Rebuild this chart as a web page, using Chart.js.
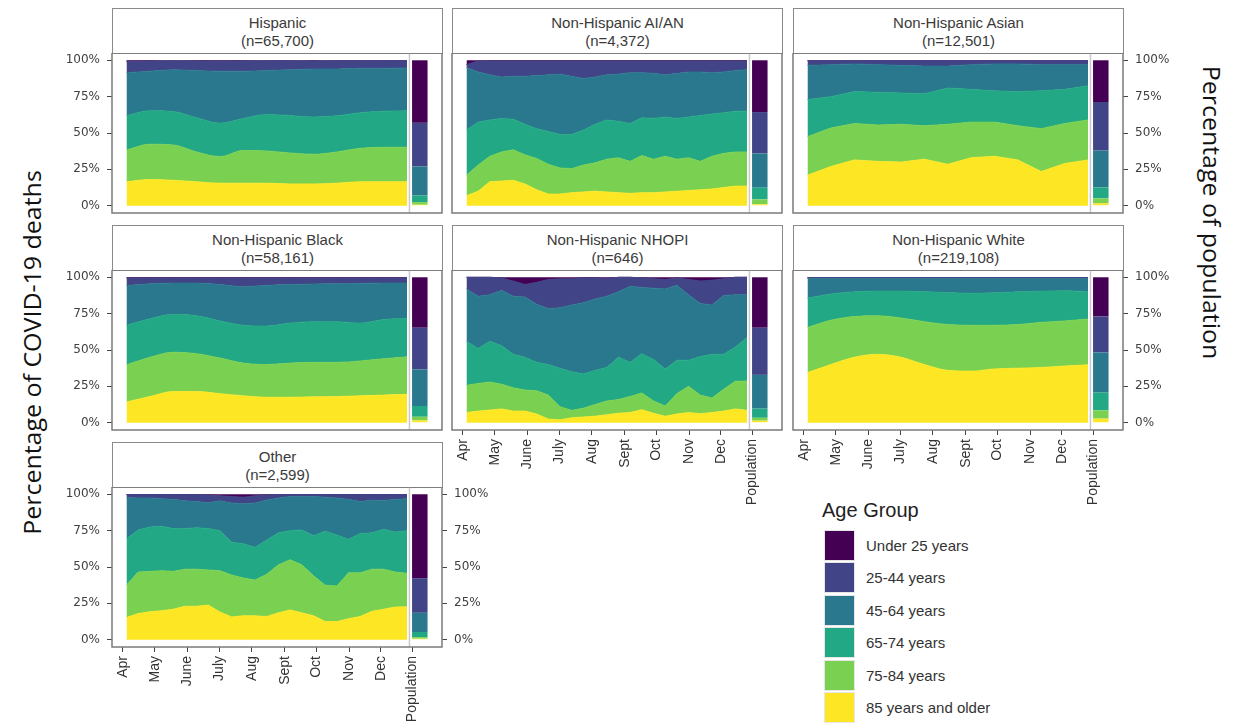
<!DOCTYPE html>
<html>
<head>
<meta charset="utf-8">
<script src="https://cdn.jsdelivr.net/npm/chart.js@4.4.0/dist/chart.umd.min.js"></script>
<style>
  body { margin: 0; background: #fff; width: 1234px; height: 725px; overflow: hidden; position: relative;
         font-family: "Liberation Sans", Arial, sans-serif; }
  canvas { position: absolute; }
  .strip { position: absolute; box-sizing: border-box; width: 331px; height: 46px; background: #fff;
           border: 1.5px solid #8a8a8a; text-align: center; color: #3a3a3a; font-size: 15px;
           line-height: 18px; padding-top: 5px; }
  .axis-title { position: absolute; white-space: nowrap; font-family: "Open Sans", sans-serif;
                font-size: 24px; color: #111; transform-origin: center center; }
  .legend-title { position: absolute; left: 822px; top: 499px; font-size: 20px; color: #222; }
  .legend-row { position: absolute; left: 824px; height: 32px; }
  .legend-row .sw { position: absolute; left: 0; top: 0; width: 31px; height: 31px; box-sizing: border-box;
                    border: 1px solid #e6e6e6; }
  .legend-row .lb { position: absolute; left: 42px; top: 7px; font-size: 15px; color: #333; white-space: nowrap; }
</style>
</head>
<body>
<div id="left-title" class="axis-title">Percentage of COVID-19 deaths</div>
<div id="right-title" class="axis-title">Percentage of population</div>
<div class="legend-title">Age Group</div>
<div id="legend"></div>
<script>
// ── Categories / ticks ─────────────────────────────────────────
const ageGroups  = ['Under 25 years', '25-44 years', '45-64 years', '65-74 years', '75-84 years', '85 years and older'];
const ageColors  = ['#440154', '#414487', '#2a788e', '#22a884', '#7ad151', '#fde725'];
const tickLabels = ['Apr', 'May', 'June', 'July', 'Aug', 'Sept', 'Oct', 'Nov', 'Dec', 'Population'];
const tickDays   = [0, 30, 61, 91, 122, 153, 183, 214, 244, 274];   // days since Apr 1
const yTicks     = [0, 25, 50, 75, 100];

// weekly series run from early April to late December; population bar sits after it
const dataStartDay = 3.3, dataEndDay = 268.7, separatorDay = 271, popDay = 280.8;

// ── Deaths: share of deaths at or above each age (%), by week ──
const hispanicAge85 = [16.5, 18, 17.5, 16.5, 15.5, 15.5, 15.5, 15, 15, 15.5, 16.5, 16.5, 16.5];
const hispanicAge75 = [38.4, 42.3, 41.8, 37, 33.8, 38, 37.7, 36.3, 35.4, 37, 39.5, 40.2, 40.2];
const hispanicAge65 = [62, 65.3, 64.8, 60.5, 56.8, 60, 62.8, 62, 61, 61.8, 64, 65, 65.3];
const hispanicAge45 = [91.5, 92.5, 93.5, 93, 92.5, 92.5, 93, 93.5, 94, 94, 94.5, 94.5, 94.7];
const hispanicAge25 = [99.3, 99.5, 99.6, 99.5, 99.4, 99.5, 99.6, 99.6, 99.5, 99.6, 99.6, 99.7, 99.7];

const aianAge85 = [6.9, 10, 16.5, 17, 17.5, 15, 11, 8, 8, 9, 9.5, 10, 9.5, 9, 8.5, 9, 9, 9.5, 10, 10.5, 11, 11.5, 12.5, 13.5, 13.5];
const aianAge75 = [21, 28, 34, 37, 38.5, 35, 32.5, 28.5, 26, 25.5, 28, 29.5, 32, 33, 30.5, 34.5, 32, 34, 32, 33, 30.5, 34, 36, 37, 37];
const aianAge65 = [52, 57.5, 59, 60, 59.5, 56, 53, 51, 49, 49, 52, 56, 59, 58, 56.5, 60.5, 60, 61, 60, 61, 62, 63, 64, 65, 65];
const aianAge45 = [95, 92, 90, 88.5, 89, 89, 89.5, 90, 90.5, 89, 87.5, 88.5, 90, 90.5, 91.5, 91.5, 91, 90, 91, 92, 92, 91.5, 92, 93, 93.5];
const aianAge25 = [97, 99.6, 99.5, 99.5, 99.5, 99.5, 99.5, 99.5, 99.5, 99.5, 99.5, 99.5, 99.5, 99.5, 99.5, 99.5, 99.5, 99.5, 99.5, 99.5, 99.5, 99.5, 99.5, 99.5, 99.5];

const asianAge85 = [21, 27, 31.5, 30.5, 30, 32, 28.5, 33, 34, 31.5, 23.5, 29, 31.5];
const asianAge75 = [47.5, 53.5, 56.5, 55.5, 56, 55, 56, 57.5, 57.5, 55, 53, 56.5, 59];
const asianAge65 = [73, 75, 78.5, 78, 77.5, 77, 81, 80, 79, 78.5, 79, 80, 82.5];
const asianAge45 = [96.5, 97, 97.5, 97, 96.5, 96, 96, 97, 97.5, 97.5, 97, 97, 97];
const asianAge25 = [99.7, 99.7, 99.7, 99.7, 99.7, 99.7, 99.7, 99.7, 99.7, 99.7, 99.7, 99.7, 99.7];

const blackAge85 = [14.3, 18, 21.5, 21.5, 20, 18.5, 17.5, 17.5, 17.8, 18, 18.5, 19, 19.5];
const blackAge75 = [39.8, 45, 48.5, 47.5, 44.5, 41, 40, 41, 41.5, 41.5, 42.5, 44, 45.3];
const blackAge65 = [67, 71.5, 74.5, 73.5, 70, 67, 66.5, 68.5, 69.5, 69.5, 68.5, 71, 71.7];
const blackAge45 = [94.3, 95.5, 96, 96, 95, 93.5, 94.5, 95, 95.4, 95.5, 95.8, 96, 96.1];
const blackAge25 = [99.5, 99.5, 99.5, 99.5, 99.5, 99.5, 99.5, 99.5, 99.5, 99.5, 99.5, 99.5, 99.5];

const nhopiAge85 = [7, 8, 8.7, 9.5, 8, 8, 6, 2.5, 2, 3.4, 4, 4.5, 5.5, 6.5, 7, 9, 6.5, 4.5, 6, 7, 6.2, 7, 8, 9.5, 8.5];
const nhopiAge75 = [25.7, 27, 28, 26.5, 24, 22.5, 22, 19, 11, 8.5, 10, 12.5, 15, 16, 18, 20.5, 15, 11.5, 20, 25, 19, 17, 23, 28.5, 28.7];
const nhopiAge65 = [56, 51, 56, 53, 47, 45, 41.5, 40, 37.5, 35, 33.5, 36, 38, 45, 41.5, 47.5, 43.5, 37, 43, 43, 45.5, 47, 47, 52, 58.5];
const nhopiAge45 = [92, 87, 88, 91, 87, 86.5, 81.5, 78.5, 79, 81, 82.5, 85, 87, 90, 93.8, 93, 92.5, 92, 94.5, 88, 82, 81, 87.5, 88, 88];
const nhopiAge25 = [100, 100, 100, 99.5, 97.5, 95, 96.5, 98.5, 99, 99, 99.5, 99.5, 99, 100, 100, 99.5, 99, 98.5, 99.5, 98.5, 97.5, 98, 99, 100, 100];

const whiteAge85 = [34.5, 40, 45, 47, 45, 40, 36, 35.5, 37, 37.5, 38, 39, 39.8];
const whiteAge75 = [65.5, 70.5, 73, 73.5, 72, 69.5, 67.5, 67, 67, 67.5, 69, 70, 71.3];
const whiteAge65 = [85.7, 88.5, 90, 90.5, 90.5, 90, 89.5, 89, 89.3, 90, 90.5, 90.8, 90.1];
const whiteAge45 = [99.2, 99.2, 99.2, 99.2, 99.2, 99.2, 99.2, 99.2, 99.2, 99.2, 99.2, 99.2, 99.2];
const whiteAge25 = [99.8, 99.8, 99.8, 99.8, 99.8, 99.8, 99.8, 99.8, 99.8, 99.8, 99.8, 99.8, 99.8];

const otherAge85 = [15.2, 18, 19.2, 20, 21, 23, 23, 23.8, 19, 15.7, 16.5, 16.4, 16, 18.5, 20.5, 18.5, 16.5, 12.5, 12.5, 14.5, 16, 19.5, 21, 22.5, 22.6];
const otherAge75 = [37.6, 46.5, 47, 47.5, 47, 48.5, 48.5, 48, 47.5, 44.5, 42.5, 41, 45, 51.5, 55, 51.5, 44, 37.5, 37, 46, 46, 48.5, 48.5, 46.5, 45.7];
const otherAge65 = [69.3, 75.5, 77.5, 78, 76.5, 76.5, 77, 76.5, 75, 67, 66, 63.5, 68.5, 73.5, 75, 75.5, 71.5, 74.5, 72, 69, 73, 73.5, 76, 74, 75];
const otherAge45 = [97.7, 97.5, 97.5, 97, 96.5, 95.5, 95, 94.2, 95.5, 94, 93.5, 94, 96, 97.5, 98.5, 98.5, 98.5, 98, 97.5, 96.5, 95, 96, 95.8, 96.5, 97];
const otherAge25 = [99.8, 99.8, 99.8, 99.8, 99.8, 99.8, 99.8, 99.5, 99, 98.5, 98, 99, 99.5, 99.8, 99.8, 99.8, 99.8, 99.8, 99.8, 99.8, 99.8, 99.8, 99.8, 99.8, 99.8];

// ── Population shares (%), order as ageGroups ──────────────────
const popHispanic = [43, 30, 20, 4.5, 1.8, 0.7];
const popAian     = [35.6, 28.4, 23.6, 8, 3.4, 1];
const popAsian    = [28.7, 33.4, 25.3, 7.5, 3.5, 1.6];
const popBlack    = [34.7, 28.7, 25.1, 7.4, 2.5, 1.6];
const popNhopi    = [34.7, 32.4, 23.2, 6.3, 2, 1.4];
const popWhite    = [26.9, 24.8, 27.6, 12.2, 5.7, 2.8];
const popOther    = [57.7, 23.8, 13.2, 3.5, 1.1, 0.7];

// ── Panel layout ──────────────────────────────────────────────
const panels = [
  { name: 'Hispanic',              n: '65,700',  left: 112, top: 53,  series: [hispanicAge85, hispanicAge75, hispanicAge65, hispanicAge45, hispanicAge25], pop: popHispanic, smooth: true,  showLeft: true,  showRight: false, showBottom: false },
  { name: 'Non-Hispanic AI/AN',    n: '4,372',   left: 452, top: 53,  series: [aianAge85, aianAge75, aianAge65, aianAge45, aianAge25],                     pop: popAian,     smooth: false, showLeft: false, showRight: false, showBottom: false },
  { name: 'Non-Hispanic Asian',    n: '12,501',  left: 793, top: 53,  series: [asianAge85, asianAge75, asianAge65, asianAge45, asianAge25],                pop: popAsian,    smooth: false, showLeft: false, showRight: true,  showBottom: false },
  { name: 'Non-Hispanic Black',    n: '58,161',  left: 112, top: 270, series: [blackAge85, blackAge75, blackAge65, blackAge45, blackAge25],                pop: popBlack,    smooth: true,  showLeft: true,  showRight: false, showBottom: false },
  { name: 'Non-Hispanic NHOPI',    n: '646',     left: 452, top: 270, series: [nhopiAge85, nhopiAge75, nhopiAge65, nhopiAge45, nhopiAge25],                pop: popNhopi,    smooth: false, showLeft: false, showRight: false, showBottom: true  },
  { name: 'Non-Hispanic White',    n: '219,108', left: 793, top: 270, series: [whiteAge85, whiteAge75, whiteAge65, whiteAge45, whiteAge25],                pop: popWhite,    smooth: true,  showLeft: false, showRight: true,  showBottom: true  },
  { name: 'Other',                 n: '2,599',   left: 112, top: 487, series: [otherAge85, otherAge75, otherAge65, otherAge45, otherAge25],                pop: popOther,    smooth: false, showLeft: true,  showRight: true,  showBottom: true  },
];

const AXIS_W = 60, XAXIS_H = 85, PLOT_W = 330, PLOT_H = 160;

function sampleDays(n) {
  const out = [];
  for (let i = 0; i < n; i++) out.push(dataStartDay + i * (dataEndDay - dataStartDay) / (n - 1));
  return out;
}

const panelFrame = {
  id: 'panelFrame',
  afterDraw(chart) {
    const { ctx, chartArea: a, scales: { x } } = chart;
    const sx = x.getPixelForValue(separatorDay);
    ctx.save();
    ctx.strokeStyle = '#c9c9c9';
    ctx.lineWidth = 1.5;
    ctx.beginPath(); ctx.moveTo(sx, a.top); ctx.lineTo(sx, a.bottom); ctx.stroke();
    ctx.strokeStyle = '#7a7a7a';
    ctx.strokeRect(a.left, a.top, a.right - a.left, a.bottom - a.top);
    ctx.restore();
  }
};

function yAxis(position, show, stacked) {
  return {
    position, min: -5, max: 105, stacked,
    afterBuildTicks: s => { s.ticks = yTicks.map(v => ({ value: v })); },
    afterFit: s => { s.width = AXIS_W; s.paddingTop = 0; s.paddingBottom = 0; },
    border: { display: false },
    grid: { offset: false, drawOnChartArea: false, drawTicks: show, tickLength: 5, tickColor: '#444', tickWidth: 1 },
    ticks: { display: show, padding: 7, color: '#404040', font: { family: 'DejaVu Sans', size: 12 },
             callback: v => v + '%' }
  };
}

function buildPanel(p) {
  const strip = document.createElement('div');
  strip.className = 'strip';
  strip.style.left = p.left + 'px';
  strip.style.top = (p.top - 45) + 'px';
  strip.innerHTML = p.name + '<br>(n=' + p.n + ')';
  document.body.appendChild(strip);

  const cv = document.createElement('canvas');
  cv.width = PLOT_W + 2 * AXIS_W;
  cv.height = PLOT_H + XAXIS_H;
  cv.style.left = (p.left - AXIS_W) + 'px';
  cv.style.top = p.top + 'px';
  document.body.appendChild(cv);

  const xs = sampleDays(p.series[0].length);
  const pts = arr => arr.map((v, i) => ({ x: xs[i], y: v }));
  const curve = p.smooth ? { cubicInterpolationMode: 'monotone' } : { tension: 0 };

  // bands from the bottom: 85+, 75-84, 65-74, 45-64, 25-44, under 25 (up to 100%)
  const bands = [
    { data: p.series[0], fill: 'origin',       c: 5 },
    { data: p.series[1], fill: '-1',           c: 4 },
    { data: p.series[2], fill: '-1',           c: 3 },
    { data: p.series[3], fill: '-1',           c: 2 },
    { data: p.series[4], fill: '-1',           c: 1 },
    { data: p.series[4], fill: { value: 100 }, c: 0 },
  ];
  const lineSets = bands.map(b => ({
    type: 'line', label: ageGroups[b.c], data: pts(b.data), fill: b.fill,
    backgroundColor: ageColors[b.c], borderColor: ageColors[b.c], borderWidth: 0.8,
    pointRadius: 0, yAxisID: 'y', ...curve
  }));

  const barSets = [5, 4, 3, 2, 1, 0].map(k => ({
    type: 'bar', label: ageGroups[k], data: [{ x: popDay, y: p.pop[k] }],
    backgroundColor: ageColors[k], borderWidth: 0, yAxisID: 'yp',
    grouped: false, maxBarThickness: 15.5
  }));

  new Chart(cv, {
    type: 'line',
    data: { datasets: [...lineSets, ...barSets] },
    options: {
      responsive: false, animation: false, events: [],
      layout: { padding: 0 },
      plugins: { legend: { display: false }, tooltip: { enabled: false } },
      scales: {
        x: {
          type: 'linear', min: -10.4, max: 301.8, offset: false,
          afterBuildTicks: s => { s.ticks = tickDays.map(v => ({ value: v })); },
          afterFit: s => { s.height = XAXIS_H; s.paddingLeft = 0; s.paddingRight = 0; },
          border: { display: false },
          grid: { offset: false, drawOnChartArea: false, drawTicks: p.showBottom, tickLength: 5, tickColor: '#444', tickWidth: 1 },
          ticks: { display: p.showBottom, autoSkip: false, minRotation: 90, maxRotation: 90, padding: 4,
                   color: '#333', font: { family: 'Liberation Sans', size: 14 },
                   callback: v => tickLabels[tickDays.indexOf(v)] }
        },
        y:  yAxis('left',  p.showLeft,  false),
        yp: yAxis('right', p.showRight, true)
      }
    },
    plugins: [panelFrame]
  });
}

panels.forEach(buildPanel);

// ── Legend ────────────────────────────────────────────────────
const legend = document.getElementById('legend');
ageGroups.forEach((g, i) => {
  const row = document.createElement('div');
  row.className = 'legend-row';
  row.style.top = (530 + i * 32.4) + 'px';
  row.innerHTML = '<div class="sw" style="background:' + ageColors[i] + '"></div><div class="lb">' + g + '</div>';
  legend.appendChild(row);
});

// ── Axis titles (rotated, fitted to their length) ─────────────
function placeTitle(id, cx, cy, len, angle) {
  const el = document.getElementById(id);
  const w = el.offsetWidth, h = el.offsetHeight;
  el.style.left = (cx - w / 2) + 'px';
  el.style.top = (cy - h / 2) + 'px';
  el.style.transform = 'rotate(' + angle + 'deg) scale(' + (len / w) + ',1)';
}
placeTitle('left-title', 31, 352, 365, -90);
placeTitle('right-title', 1212, 212, 293, 90);
</script>
</body>
</html>
